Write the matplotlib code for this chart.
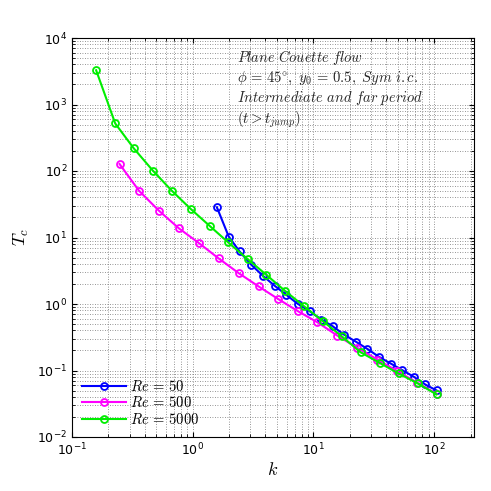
import numpy as np
import matplotlib.pyplot as plt

# values as log10(k), log10(Tc)
logk_50 = [0.2, 0.298, 0.388, 0.485, 0.581, 0.678, 0.774, 0.868, 0.97, 1.066,
           1.16, 1.253, 1.35, 1.446, 1.543, 1.64, 1.736, 1.832, 1.926, 2.02]
logT_50 = [1.455, 1.015, 0.79, 0.59, 0.425, 0.275, 0.14, 0.005, -0.11, -0.235,
           -0.335, -0.46, -0.565, -0.675, -0.795, -0.895, -0.995, -1.095, -1.21, -1.3]
logk_500 = [-0.606, -0.446, -0.281, -0.116, 0.052, 0.215, 0.38, 0.545, 0.708,
            0.873, 1.033, 1.198, 1.364, 1.53, 1.695, 1.86, 2.02]
logT_500 = [2.105, 1.705, 1.405, 1.14, 0.915, 0.685, 0.465, 0.265, 0.075,
            -0.11, -0.275, -0.475, -0.66, -0.835, -1.01, -1.185, -1.35]
logk_5000 = [-0.80, -0.642, -0.488, -0.33, -0.174, -0.017, 0.14, 0.295, 0.455,
             0.609, 0.766, 0.923, 1.08, 1.234, 1.39, 1.548, 1.705, 1.865, 2.02]
logT_5000 = [3.515, 2.715, 2.34, 2.005, 1.705, 1.43, 1.175, 0.925, 0.675,
             0.44, 0.195, -0.035, -0.26, -0.485, -0.725, -0.885, -1.045, -1.195, -1.36]

series = [
    (logk_50, logT_50, '#0000ff', r'$Re\,=\,50$'),
    (logk_500, logT_500, '#ff00ff', r'$Re\,=\,500$'),
    (logk_5000, logT_5000, '#00ee00', r'$Re\,=\,5000$'),
]

plt.rcParams['mathtext.fontset'] = 'cm'
fig = plt.figure(figsize=(4.91, 4.91), dpi=100)
ax = fig.add_axes([72/491, 54/491, 402/491, 399/491])

for lk, lt, c, lab in series:
    ax.loglog(10**np.array(lk), 10**np.array(lt), '-o', color=c, lw=1.5,
              ms=5, mfc='none', mew=1.3, label=lab)

ax.set_xlim(0.1, 10**2.33)
ax.set_ylim(1e-2, 1e4)
ax.grid(True, which='both', ls=(0, (1, 2)), color='0.45', lw=0.6)
ax.tick_params(which='both', direction='in', top=True, right=True, labelsize=9)
ax.set_xlabel(r'$k$', fontsize=13, labelpad=2)
ax.set_ylabel(r'$T_c$', fontsize=13)
ax.text(0.41, 0.975, r'$Plane\ Couette\ flow$' + '\n'
        + r'$\phi\,=\,45^{\circ},\ y_0\,=\,0.5,\ Sym\ i.c.$' + '\n'
        + r'$Intermediate\ and\ far\ period$' + '\n'
        + r'$(t>t_{jump})$',
        transform=ax.transAxes, va='top', ha='left', fontsize=10.5,
        linespacing=1.2, color='0.15')
ax.legend(loc='lower left', frameon=False, fontsize=10.5, handlelength=3,
          borderpad=0.2, labelspacing=0.1, handletextpad=0.3)

fig.savefig('out.png', dpi=100)
